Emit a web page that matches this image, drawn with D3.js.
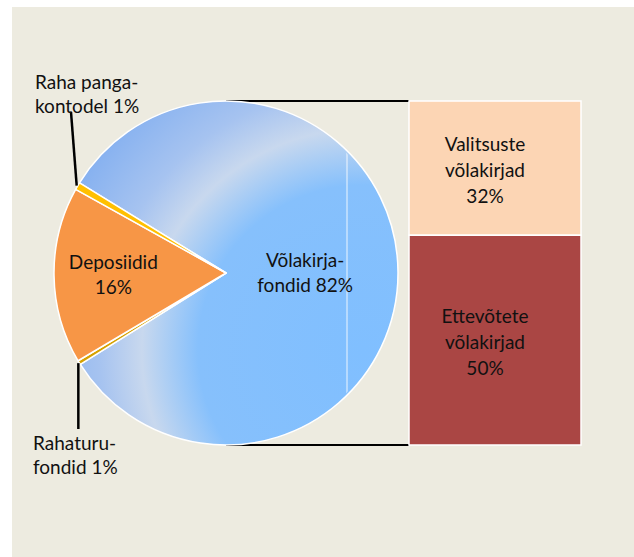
<!DOCTYPE html>
<html>
<head>
<meta charset="utf-8">
<script src="https://cdn.jsdelivr.net/npm/d3@7"></script>
<style>
body{margin:0;background:#fff;}
text{font-family:Lato,"Open Sans",sans-serif;font-size:19px;fill:#111;}
</style>
</head>
<body>
<script>
const w=634;
const h=557;

// pie data (clockwise from the big slice)
const pieNames=["Võlakirjafondid","Rahaturufondid","Deposiidid","Raha pangakontodel"];
const pieValues=[82.3,0.4,16.6,0.7];
const pieLabels=[["Võlakirja-","fondid 82%"],["Rahaturu-","fondid 1%"],["Deposiidid","16%"],["Raha panga-","kontodel 1%"]];

// bar split of the big slice
const barNames=["Valitsuste võlakirjad","Ettevõtete võlakirjad"];
const barValues=[32,50];
const barLabels=[["Valitsuste","võlakirjad","32%"],["Ettevõtete","võlakirjad","50%"]];

const pieColors=["url(#blueGrad)","#D6A200","#F79646","#FFC000"];
const barColors=["#FCD5B4","#AA4644"];

let svg=d3.select("body").append("svg")
  .attr("width",w)
  .attr("height",h);

svg.append("rect")
  .attr("x",12).attr("y",7)
  .attr("width",w-12).attr("height",h-7)
  .attr("fill","#EDEBE0");

const cx=226, cy=273, r=172;

const defs=svg.append("defs");
// gradient lives in the pie group's coordinates (origin = pie centre)
const grad=defs.append("radialGradient")
  .attr("id","blueGrad")
  .attr("gradientUnits","userSpaceOnUse")
  .attr("cx",363-cx).attr("cy",350-cy).attr("r",330);
[[0,"#80BFFF"],[0.5,"#86C0FC"],[0.67,"#C8D8EE"],[0.8,"#A6C3F0"],[1,"#86B1F0"]]
  .forEach(s=>grad.append("stop").attr("offset",s[0]).attr("stop-color",s[1]));

defs.append("clipPath").attr("id","pieClip")
  .append("circle").attr("cx",cx).attr("cy",cy).attr("r",r-2);

// bar scale
const barX0=409, barX1=581;
const y=d3.scaleLinear()
  .domain([0,d3.sum(barValues)])
  .range([101,445]);

// connector lines (under the pie)
svg.append("line")
  .attr("x1",cx).attr("y1",cy-r).attr("x2",barX0).attr("y2",y(0))
  .attr("stroke","#000").attr("stroke-width",2);
svg.append("line")
  .attr("x1",cx).attr("y1",cy+r).attr("x2",barX0).attr("y2",y(d3.sum(barValues)))
  .attr("stroke","#000").attr("stroke-width",2);

const start=-58.4*Math.PI/180;
const pie=d3.pie().sort(null).value(d=>d)
  .startAngle(start).endAngle(start+2*Math.PI);
const arcs=pie(pieValues);
const arc=d3.arc().innerRadius(0).outerRadius(r);

const g=svg.append("g").attr("transform",`translate(${cx},${cy})`);
g.selectAll("path")
  .data(arcs)
  .enter()
  .append("path")
  .attr("d",arc)
  .attr("fill",(d,i)=>pieColors[i])
  .attr("stroke","#fff")
  .attr("stroke-width",1.5)
  .attr("stroke-linejoin","round");

// faint seam line in the big slice
svg.append("line")
  .attr("x1",347).attr("x2",347).attr("y1",cy-r).attr("y2",cy+r)
  .attr("clip-path","url(#pieClip)")
  .attr("stroke","#fff").attr("stroke-opacity",0.85).attr("stroke-width",1);

// inside labels
const inner={0:[0.46,-6],2:[0.655,-6]};
Object.keys(inner).forEach(k=>{
  const a=arcs[k], mid=(a.startAngle+a.endAngle)/2;
  const px=cx+Math.sin(mid)*r*inner[k][0];
  const py=cy-Math.cos(mid)*r*inner[k][0]+inner[k][1];
  const t=svg.append("text").attr("text-anchor","middle");
  pieLabels[k].forEach((s,j)=>t.append("tspan").attr("x",px).attr("y",py+j*25).text(s));
});

// outside labels with leader lines
const outer={3:{end:[71,112],tx:35,ty:89},1:{end:[null,429],tx:33,ty:450}};
Object.keys(outer).forEach(k=>{
  const a=arcs[k], mid=(a.startAngle+a.endAngle)/2, o=outer[k];
  const x1=cx+Math.sin(mid)*(r+1), y1=cy-Math.cos(mid)*(r+1);
  svg.append("line")
    .attr("x1",x1).attr("y1",y1)
    .attr("x2",o.end[0]===null?x1:o.end[0]).attr("y2",o.end[1])
    .attr("stroke","#000").attr("stroke-width",2.5);
  const t=svg.append("text");
  pieLabels[k].forEach((s,j)=>t.append("tspan").attr("x",o.tx).attr("y",o.ty+j*24).text(s));
});

// stacked bar
let acc=0;
const stack=barValues.map(v=>{const s={y0:acc,y1:acc+v};acc+=v;return s;});
svg.selectAll("rect.bar")
  .data(stack)
  .enter()
  .append("rect")
  .attr("class","bar")
  .attr("x",barX0)
  .attr("y",d=>y(d.y0))
  .attr("width",barX1-barX0)
  .attr("height",d=>y(d.y1)-y(d.y0))
  .attr("fill",(d,i)=>barColors[i])
  .attr("stroke","#fff")
  .attr("stroke-width",1.5);

stack.forEach((d,i)=>{
  const mid=(y(d.y0)+y(d.y1))/2+9;
  const t=svg.append("text").attr("text-anchor","middle");
  barLabels[i].forEach((s,j)=>t.append("tspan").attr("x",485).attr("y",mid+(j-1)*26).text(s));
});
</script>
</body>
</html>
